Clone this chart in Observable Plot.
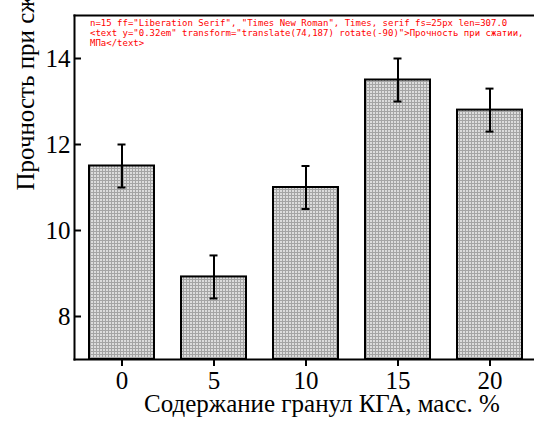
<!DOCTYPE html>
<html>
<head>
<meta charset="utf-8">
<script src="https://cdn.jsdelivr.net/npm/d3@7"></script>
<script src="https://cdn.jsdelivr.net/npm/@observablehq/plot@0.6"></script>
<style>
  html, body { margin: 0; padding: 0; background: #fff; }
  svg text { font-family: "Liberation Serif", "Times New Roman", Times, serif !important; }
  #dbg { position: absolute; left: 90px; top: 18px; width: 440px; font: 9px monospace; white-space: pre-wrap; color: red; }
</style>
</head>
<body>
<div id="chart"></div>
<div id="dbg"></div>
<script>
const categories = ["0", "5", "10", "15", "20"];
const strengths = [11.5, 8.92, 11.0, 13.5, 12.8];
const errors = [0.5, 0.5, 0.5, 0.5, 0.5];
const yTicks = [8, 10, 12, 14];
const xTitle = "Содержание гранул КГА, масс. %";
const yTitle = "Прочность при сжатии, МПа";

const data = categories.map((c, i) => ({
  cat: c, v: strengths[i], lo: strengths[i] - errors[i], hi: strengths[i] + errors[i]
}));

const serif = "Liberation Serif";

const plot = Plot.plot({
  width: 534,
  height: 423,
  marginLeft: 74,
  marginRight: 0,
  marginTop: 15,
  marginBottom: 64,
  style: { fontFamily: serif, fontSize: "25px" },
  x: { domain: categories, range: [74, 537], paddingInner: 0.296, paddingOuter: 0.157, label: null },
  y: { domain: [7, 15], label: null },
  marks: [
    Plot.barY(data, { x: "cat", y1: 7, y2: "v", fill: "url(#checker)", stroke: "#000", strokeWidth: 2 }),
    Plot.ruleX(data, { x: "cat", y1: "lo", y2: "hi", stroke: "#000", strokeWidth: 2 }),
    Plot.tickY(data, { x: "cat", y: "lo", stroke: "#000", strokeWidth: 2, insetLeft: 28.5, insetRight: 28.5 }),
    Plot.tickY(data, { x: "cat", y: "hi", stroke: "#000", strokeWidth: 2, insetLeft: 28.5, insetRight: 28.5 }),
    Plot.frame({ anchor: "top", stroke: "#000", strokeWidth: 2 }),
    Plot.frame({ anchor: "left", stroke: "#000", strokeWidth: 2 }),
    Plot.frame({ anchor: "bottom", stroke: "#000", strokeWidth: 2 }),
    Plot.axisY(yTicks, { anchor: "left", tickSize: -7, text: null, strokeWidth: 2, label: null }),
    Plot.axisY(yTicks, { anchor: "left", tickSize: 0, tickPadding: 4, label: null, fontSize: 25, fontFamily: serif }),
    Plot.axisX({ anchor: "bottom", tickSize: 7, tickPadding: 5, strokeWidth: 2, label: null, fontSize: 25, fontFamily: serif }),
    Plot.text([xTitle], { frameAnchor: "bottom", dx: 17.5, dy: 52, fontSize: 25, fontFamily: serif }),
    Plot.text([yTitle], { frameAnchor: "left", dx: -49, dy: 3, rotate: -90, fontSize: 25, fontFamily: serif })
  ]
});

// checker pattern definition
const ns = "http://www.w3.org/2000/svg";
const defs = document.createElementNS(ns, "defs");
const pat = document.createElementNS(ns, "pattern");
pat.setAttribute("id", "checker");
pat.setAttribute("patternUnits", "userSpaceOnUse");
pat.setAttribute("width", "3");
pat.setAttribute("height", "3");
const bg = document.createElementNS(ns, "rect");
bg.setAttribute("width", "3"); bg.setAttribute("height", "3"); bg.setAttribute("fill", "#dcdcdc");
const l1 = document.createElementNS(ns, "rect");
l1.setAttribute("width", "1"); l1.setAttribute("height", "3"); l1.setAttribute("fill", "#a4a4a4");
const l2 = document.createElementNS(ns, "rect");
l2.setAttribute("width", "3"); l2.setAttribute("height", "1"); l2.setAttribute("fill", "#a4a4a4");
pat.append(bg, l1, l2);
defs.append(pat);
plot.append(defs);

document.getElementById("chart").append(plot);

const texts = [...plot.querySelectorAll("text")];
const last = texts[texts.length - 1];
let info = "n=" + texts.length + " ff=" + getComputedStyle(last).fontFamily + " fs=" + getComputedStyle(last).fontSize;
try { info += " len=" + last.getComputedTextLength().toFixed(1); } catch (e) { info += " err " + e; }
info += "\n" + last.outerHTML.slice(0, 300);
document.getElementById("dbg").textContent = info;
</script>
</body>
</html>
